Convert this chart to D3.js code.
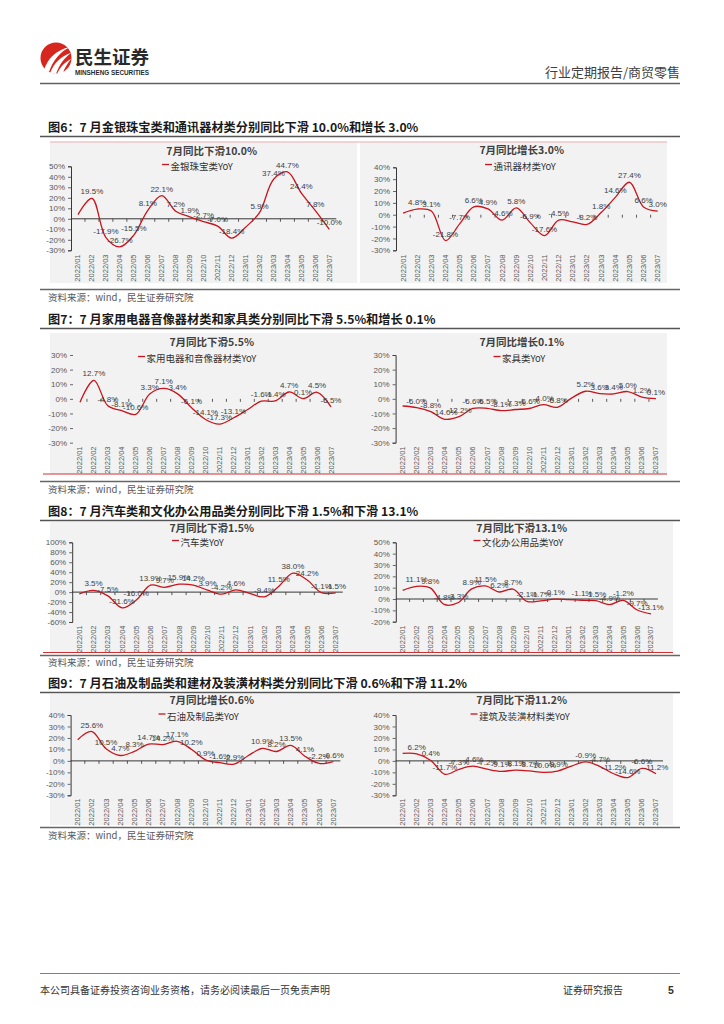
<!DOCTYPE html>
<html><head><meta charset="utf-8">
<script src="https://cdn.jsdelivr.net/npm/d3@7"></script>
<style>body{margin:0;background:#fff}</style>
</head><body><svg id="c" width="724" height="1024"></svg>
<script>
const months = ['2022/01','2022/02','2022/03','2022/04','2022/05','2022/06','2022/07','2022/08','2022/09','2022/10','2022/11','2022/12','2023/01','2023/02','2023/03','2023/04','2023/05','2023/06','2023/07'];
const unlabeledMonths = ['2022/01','2023/01'];
const jewelryYoY   = [4.0, 19.5, -17.9, -26.7, -15.5, 8.1, 22.1, 7.2, 1.9, -2.7, -7.0, -18.4, -8.0, 5.9, 37.4, 44.7, 24.4, 7.8, -10.0];
const telecomYoY   = [1.4, 4.8, 3.1, -21.8, -7.7, 6.6, 4.9, -4.6, 5.8, -6.9, -17.6, -4.5, -6.0, -8.2, 1.8, 14.6, 27.4, 6.6, 3.0];
const applianceYoY = [-2.3, 12.7, -4.8, -8.1, -10.6, 3.3, 7.1, 3.4, -6.1, -14.1, -17.3, -13.1, -7.5, -1.6, -1.4, 4.7, 0.1, 4.5, -5.5];
const furnitureYoY = [-4.9, -6.0, -8.8, -14.0, -12.2, -6.6, -6.5, -8.1, -7.3, -6.6, -4.0, -5.8, 0.5, 5.2, 3.6, 3.4, 5.0, 1.2, 0.1];
const autoYoY      = [-3.5, 3.5, -7.5, -31.6, -16.0, 13.9, 9.7, 15.9, 14.2, 3.9, -4.2, 4.6, -3.0, -9.4, 11.5, 38.0, 24.2, -1.1, -1.5];
const officeYoY    = [7.6, 11.1, 9.8, -4.8, -3.3, 8.9, 11.5, 6.2, 8.7, -2.1, -1.7, -0.1, -0.5, -1.1, -1.5, -4.9, -1.2, -9.7, -13.1];
const oilYoY       = [18.5, 25.6, 10.5, 4.7, 8.3, 14.7, 14.2, 17.1, 10.2, 0.9, -1.6, -2.9, 4.5, 10.9, 8.2, 13.5, 4.1, -2.2, -0.6];
const buildingYoY  = [6.6, 6.2, 0.4, -11.7, -7.3, -4.6, -7.2, -9.1, -8.1, -8.7, -10.0, -8.9, -4.5, -0.9, -4.7, -11.2, -14.6, -6.6, -11.2];

const svg = d3.select('#c');
const CJK = "'Noto Sans CJK SC','Noto Sans',sans-serif";
const LAT = "'Liberation Sans',Arial,sans-serif";
const RED = '#c8141c';

// ---------- header ----------
const logo = svg.append('g');
logo.append('circle').attr('cx',56).attr('cy',58).attr('r',15.5).attr('fill','#d7261e');
logo.append('path').attr('d','M44,70 C48,58 56,50 70,47 C60,52 53,60 49,72 Z').attr('fill','#fff');
logo.append('path').attr('d','M50,73 C54,63 61,56 71,53 C64,58 59,65 56,74 Z').attr('fill','#fff');
logo.append('path').attr('d','M57,74 C60,67 65,62 71,59 C67,64 64,69 63,73 Z').attr('fill','#fff');
svg.append('text').attr('x',75).attr('y',64).text('民生证券')
  .style('font-family',CJK).style('font-size','18.5px').style('font-weight','bold').attr('fill','#2a2a2a');
svg.append('text').attr('x',75).attr('y',74.5).text('MINSHENG SECURITIES').attr('textLength',74).attr('lengthAdjust','spacingAndGlyphs')
  .style('font-family',LAT).style('font-size','7px').style('font-weight','bold').attr('fill','#2a2a2a');
svg.append('text').attr('x',680).attr('y',77).attr('text-anchor','end').text('行业定期报告/商贸零售')
  .style('font-family',CJK).style('font-size','13px').attr('fill','#404040');
svg.append('line').attr('x1',40).attr('x2',680).attr('y1',83.5).attr('y2',83.5).attr('stroke','#606060').attr('stroke-width',1.5);

// ---------- footer ----------
svg.append('line').attr('x1',40).attr('x2',680).attr('y1',973.5).attr('y2',973.5).attr('stroke','#808080').attr('stroke-width',1.2);
svg.append('text').attr('x',40).attr('y',994).text('本公司具备证券投资咨询业务资格，请务必阅读最后一页免责声明')
  .style('font-family',CJK).style('font-size','10px').attr('fill','#333');
svg.append('text').attr('x',563).attr('y',994).text('证券研究报告')
  .style('font-family',CJK).style('font-size','10px').attr('fill','#333');
svg.append('text').attr('x',668).attr('y',994).text('5')
  .style('font-family',LAT).style('font-size','10.5px').style('font-weight','bold').attr('fill','#333');

// ---------- figure frames ----------
const figs = [
  {title:'图6：7 月金银珠宝类和通讯器材类分别同比下滑 10.0%和增长 3.0%', ty:132, rule:136.5, bottom:289.5, src:301},
  {title:'图7：7 月家用电器音像器材类和家具类分别同比下滑 5.5%和增长 0.1%', ty:324, rule:328.5, bottom:481.5, src:493},
  {title:'图8：7 月汽车类和文化办公用品类分别同比下滑 1.5%和下滑 13.1%', ty:516, rule:520.5, bottom:655.5, src:666},
  {title:'图9：7 月石油及制品类和建材及装潢材料类分别同比下滑 0.6%和下滑 11.2%', ty:688, rule:692.5, bottom:827.5, src:839}
];
const panels = [[50,142,307,141],[360,142,307,141],[50,333,310,141],[360,333,307,141],[50,522,310,130],[360,522,313,130],[50,694,310,131],[360,694,313,131]];
panels.forEach(p=>svg.append('rect').attr('x',p[0]).attr('y',p[1]).attr('width',p[2]).attr('height',p[3]).attr('fill','#f2f2f2'));
svg.append('line').attr('x1',50).attr('x2',667).attr('y1',142).attr('y2',142).attr('stroke','#ecc6c8').attr('stroke-width',1.5);
svg.append('line').attr('x1',43).attr('x2',667).attr('y1',474).attr('y2',474).attr('stroke','#d03030').attr('stroke-width',1);
svg.append('line').attr('x1',43).attr('x2',673).attr('y1',652.5).attr('y2',652.5).attr('stroke','#d03030').attr('stroke-width',1);

figs.forEach(f=>{
  svg.append('text').attr('x',48).attr('y',f.ty).text(f.title)
    .style('font-family',CJK).style('font-size','12.2px').style('font-weight','bold').attr('fill','#1a1a1a');
  svg.append('line').attr('x1',40).attr('x2',680).attr('y1',f.rule).attr('y2',f.rule).attr('stroke','#555').attr('stroke-width',1.5);
  svg.append('line').attr('x1',40).attr('x2',680).attr('y1',f.bottom).attr('y2',f.bottom).attr('stroke','#666').attr('stroke-width',1.5);
  svg.append('text').attr('x',48).attr('y',f.src).text('资料来源：wind，民生证券研究院')
    .style('font-family',CJK).style('font-size','9.5px').attr('fill','#595959');
});

// ---------- charts ----------
const charts = [
  {vals:jewelryYoY,  title:'7月同比下滑10.0%', leg:'金银珠宝类YoY', x0:71, x1:336.3, yMin:-30, yMax:50, yB:250.3, yT:166.3, tx:211.7, tyc:151, lx:162, lyc:167, labTop:254.5, vLine:true, zLine:true},
  {vals:telecomYoY,  title:'7月同比增长3.0%',  leg:'通讯器材类YoY', x0:396, x1:664.8, yMin:-30, yMax:40, yB:250.3, yT:167.3, tx:521.7, tyc:150.5, lx:485, lyc:167, labTop:254.5, vLine:true, zLine:false},
  {vals:applianceYoY,title:'7月同比下滑5.5%',  leg:'家用电器和音像器材类YoY', x0:73, x1:338, yMin:-30, yMax:30, yB:442.7, yT:355, tx:211.7, tyc:342.5, lx:138, lyc:359, labTop:446.5, vLine:false, zLine:false},
  {vals:furnitureYoY,title:'7月同比增长0.1%',  leg:'家具类YoY', x0:395.6, x1:663, yMin:-30, yMax:30, yB:442.7, yT:355, tx:521.7, tyc:342.5, lx:493.5, lyc:359, labTop:446.5, vLine:true, zLine:false},
  {vals:autoYoY,     title:'7月同比下滑1.5%',  leg:'汽车类YoY', x0:72.2, x1:342.8, yMin:-60, yMax:100, yStep:20, yB:622, yT:542.3, tx:211.7, tyc:528, lx:172, lyc:543, labTop:625.5, vLine:true, zLine:true},
  {vals:officeYoY,   title:'7月同比下滑13.1%', leg:'文化办公用品类YoY', x0:395.8, x1:657.9, yMin:-20, yMax:50, yB:621.7, yT:542.3, tx:521.7, tyc:528, lx:473.5, lyc:543, labTop:625.5, vLine:true, zLine:true},
  {vals:oilYoY,      title:'7月同比增长0.6%',  leg:'石油及制品类YoY', x0:70.6, x1:340.4, yMin:-30, yMax:40, yB:795.3, yT:715, tx:211.7, tyc:700, lx:158.5, lyc:716.5, labTop:798.5, vLine:true, zLine:true},
  {vals:buildingYoY, title:'7月同比下滑11.2%', leg:'建筑及装潢材料类YoY', x0:395.6, x1:663, yMin:-30, yMax:40, yB:795.3, yT:715, tx:521.7, tyc:700, lx:470.5, lyc:716.5, labTop:798.5, vLine:true, zLine:true}
];

charts.forEach(c=>{
  const g = svg.append('g');
  const x = d3.scaleBand().domain(months).range([c.x0, c.x1]);
  const bw = x.bandwidth();
  const y = d3.scaleLinear().domain([c.yMin, c.yMax]).range([c.yB, c.yT]);
  const step = c.yStep || 10;
  const yAxis = d3.axisLeft(y).tickValues(d3.range(c.yMin, c.yMax + 0.001, step))
    .tickSize(3).tickPadding(3).tickFormat(d=>d+'%');
  const ga = g.append('g').attr('transform',`translate(${c.x0},0)`).call(yAxis);
  ga.select('.domain').attr('stroke', c.vLine ? '#222' : 'none').attr('stroke-width',0.9);
  ga.selectAll('.tick line').attr('stroke','#444').attr('stroke-width',0.8);
  ga.selectAll('.tick text').style('font-family',LAT).style('font-size','8px').attr('fill','#595959');

  if (c.zLine) g.append('line').attr('x1',c.x0).attr('x2',c.x1).attr('y1',y(0)).attr('y2',y(0)).attr('stroke','#222').attr('stroke-width',0.9);
  g.selectAll('line.xt').data(months.slice(1)).join('line')
    .attr('x1',d=>x(d)).attr('x2',d=>x(d)).attr('y1',y(0)).attr('y2',y(0)+3)
    .attr('stroke','#333').attr('stroke-width',0.8);

  g.selectAll('text.xl').data(months).join('text')
    .attr('transform',d=>`translate(${x(d)+bw/2},${c.labTop}) rotate(-90)`)
    .attr('text-anchor','end').attr('dy','0.33em').text(d=>d)
    .style('font-family',LAT).style('font-size','7.5px').attr('fill','#595959');

  const pts = months.map((m,i)=>({m, v:c.vals[i]}));
  g.append('path').datum(pts)
    .attr('d', d3.line().x(d=>x(d.m)+bw/2).y(d=>y(d.v)).curve(d3.curveCatmullRom.alpha(0.5)))
    .attr('fill','none').attr('stroke',RED).attr('stroke-width',1.3);

  g.selectAll('text.dl').data(pts.filter(d=>!unlabeledMonths.includes(d.m))).join('text')
    .attr('x',d=>x(d.m)+bw/2).attr('y',d=>y(d.v)-4).attr('text-anchor','middle')
    .text(d=>d.v.toFixed(1)+'%')
    .style('font-family',LAT).style('font-size','8px').attr('fill','#404040');

  g.append('text').attr('x',c.tx).attr('y',c.tyc).attr('dy','0.35em').attr('text-anchor','middle').text(c.title)
    .style('font-family',CJK).style('font-size','10.5px').style('font-weight','bold').attr('fill','#404040');
  g.append('line').attr('x1',c.lx).attr('x2',c.lx+7).attr('y1',c.lyc-2.5).attr('y2',c.lyc-2.5).attr('stroke',RED).attr('stroke-width',1.3);
  g.append('text').attr('x',c.lx+8.5).attr('y',c.lyc).attr('dy','0.35em').text(c.leg)
    .style('font-family',CJK).style('font-size','9.5px').attr('fill','#333');
});
</script></body></html>
